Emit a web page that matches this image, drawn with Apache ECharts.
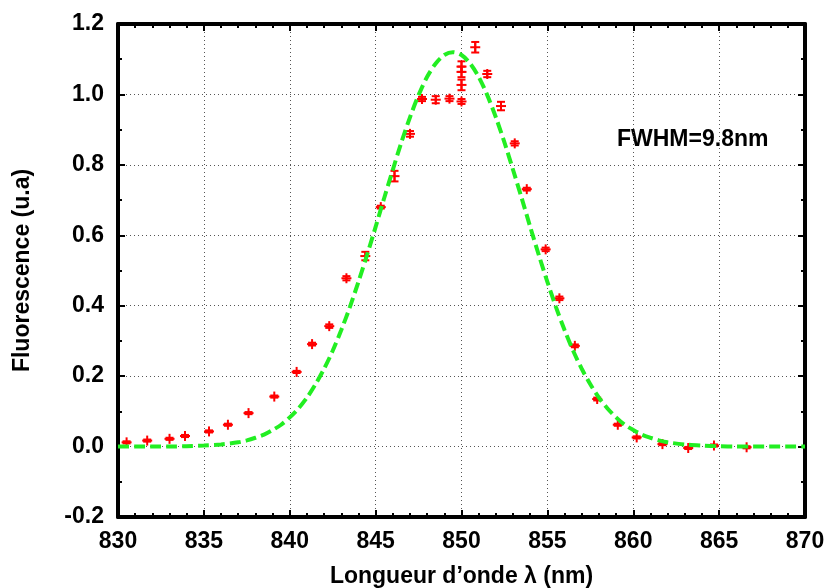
<!DOCTYPE html>
<html>
<head>
<meta charset="utf-8">
<script src="https://cdn.jsdelivr.net/npm/echarts@6/dist/echarts.min.js"></script>
<style>html,body{margin:0;padding:0;background:#fff}#c{width:828px;height:588px}</style>
</head>
<body>
<div id="c"></div>
<script>
// Measured points: wavelength (nm), fluorescence (u.a), error
const wavelengths = [830.5,831.7,833.0,833.9,835.3,836.4,837.6,839.1,840.4,841.3,842.3,843.3,844.4,845.3,846.1,847.0,847.7,848.5,849.3,850.0,850.0,850.0,850.0,850.8,851.5,852.3,853.1,853.8,854.9,855.7,856.6,857.9,859.1,860.2,861.7,863.2,864.7,866.6];
const fluorescence = [0.012,0.017,0.022,0.030,0.043,0.062,0.095,0.142,0.212,0.291,0.342,0.478,0.541,0.680,0.768,0.888,0.987,0.985,0.988,0.980,1.027,1.064,1.079,1.134,1.058,0.967,0.861,0.731,0.560,0.421,0.286,0.135,0.062,0.026,0.007,-0.004,0.003,-0.002];
const errors = [0.003,0.003,0.003,0.003,0.003,0.003,0.003,0.003,0.003,0.004,0.005,0.006,0.012,0.004,0.015,0.008,0.006,0.010,0.007,0.007,0.015,0.015,0.015,0.015,0.009,0.012,0.006,0.004,0.005,0.005,0.004,0.004,0.003,0.003,0.003,0.003,0.003,0.003];
// Fit curve
const fitX = [830,831,832,833,834,835,836,837,837.5,838,838.5,839,839.5,840,840.5,841,841.5,842,842.5,843,843.5,844,844.5,845,845.5,846,846.5,847,847.5,848,848.5,849,849.5,850,850.5,851,851.5,852,852.5,853,853.5,854,854.5,855,855.5,856,856.5,857,857.5,858,858.5,859,859.5,860,860.5,861,861.5,862,863,864,865,866,867,868,869,870];
const fitY = [0,0,0,0,0.001,0.003,0.006,0.012,0.0175,0.025,0.034,0.047,0.062,0.083,0.108,0.139,0.177,0.221,0.272,0.331,0.396,0.468,0.544,0.624,0.706,0.786,0.864,0.935,0.998,1.050,1.088,1.112,1.120,1.112,1.088,1.050,0.998,0.935,0.864,0.786,0.706,0.624,0.544,0.468,0.396,0.331,0.272,0.221,0.177,0.139,0.108,0.083,0.062,0.047,0.034,0.025,0.0175,0.012,0.006,0.003,0.001,0,0,0,0,0];
const xTicks = [830,835,840,845,850,855,860,865,870];
const yTicks = [-0.2,0,0.2,0.4,0.6,0.8,1.0,1.2];
const annotation = 'FWHM=9.8nm';

const FONT = '"Liberation Sans", Arial, sans-serif';
const FS = 23;
const chart = echarts.init(document.getElementById('c'), null, {renderer:'canvas'});
const pts = wavelengths.map((w,i)=>[w, fluorescence[i], errors[i]]);
const fit = fitX.map((x,i)=>[x, fitY[i]]);

const axisLine = {show:true, onZero:false, lineStyle:{color:'#000', width:4}};
const axisTick = {show:true, inside:true, length:7, lineStyle:{color:'#000', width:2}};

chart.setOption({
  animation:false,
  backgroundColor:'#fff',
  grid:{left:118, right:23, top:24, bottom:71, containLabel:false, outerBoundsMode:'none'},
  xAxis:[
    {type:'value', min:xTicks[0], max:xTicks[xTicks.length-1], interval:5, position:'bottom',
      axisLine:axisLine, axisTick:axisTick,
      minorTick:{show:true, splitNumber:5, length:4, lineStyle:{color:'#000', width:2}},
      axisLabel:{color:'#000', fontSize:FS, fontWeight:'bold', fontFamily:FONT, margin:13},
      splitLine:{show:true, lineStyle:{color:'#555', width:1, type:[1,3]}},
      name:'Longueur d\u2019onde \u03bb (nm)', nameLocation:'middle', nameGap:48,
      nameTextStyle:{color:'#000', fontSize:FS, fontWeight:'bold', fontFamily:FONT}
    },
    {type:'value', min:xTicks[0], max:xTicks[xTicks.length-1], interval:5, position:'top',
      axisLine:axisLine, axisTick:axisTick,
      minorTick:{show:true, splitNumber:5, length:4, lineStyle:{color:'#000', width:2}},
      axisLabel:{show:false}, splitLine:{show:false}
    }
  ],
  yAxis:[
    {type:'value', min:yTicks[0], max:yTicks[yTicks.length-1], interval:0.2, position:'left',
      axisLine:axisLine, axisTick:axisTick,
      minorTick:{show:true, splitNumber:2, length:4, lineStyle:{color:'#000', width:2}},
      axisLabel:{color:'#000', fontSize:FS, fontWeight:'bold', fontFamily:FONT, margin:14, formatter:v=>v.toFixed(1)},
      splitLine:{show:true, lineStyle:{color:'#555', width:1, type:[1,3]}},
      name:'Fluorescence (u.a)', nameLocation:'middle', nameGap:84, nameRotate:90,
      nameTextStyle:{color:'#000', fontSize:FS, fontWeight:'bold', fontFamily:FONT}
    },
    {type:'value', min:yTicks[0], max:yTicks[yTicks.length-1], interval:0.2, position:'right',
      axisLine:axisLine, axisTick:axisTick,
      minorTick:{show:true, splitNumber:2, length:4, lineStyle:{color:'#000', width:2}},
      axisLabel:{show:false}, splitLine:{show:false}
    }
  ],
  series:[
    {
      type:'custom', xAxisIndex:0, yAxisIndex:0, data:pts, z:3,
      renderItem:function(params, api){
        const x = api.value(0), y = api.value(1), e = api.value(2);
        const c = api.coord([x,y]);
        const hi = api.coord([x,y+e]);
        const lo = api.coord([x,y-e]);
        const st = {stroke:'#ff0000', lineWidth:2};
        const cap = 4, m = 5;
        return {type:'group', children:[
          {type:'line', shape:{x1:c[0], y1:hi[1], x2:c[0], y2:lo[1]}, style:st},
          {type:'line', shape:{x1:c[0]-cap, y1:hi[1], x2:c[0]+cap, y2:hi[1]}, style:st},
          {type:'line', shape:{x1:c[0]-cap, y1:lo[1], x2:c[0]+cap, y2:lo[1]}, style:st},
          {type:'line', shape:{x1:c[0]-m, y1:c[1], x2:c[0]+m, y2:c[1]}, style:st},
          {type:'line', shape:{x1:c[0], y1:c[1]-m, x2:c[0], y2:c[1]+m}, style:st}
        ]};
      }
    },
    {
      type:'line', xAxisIndex:0, yAxisIndex:0, data:fit, smooth:0.3, showSymbol:false, z:4,
      lineStyle:{color:'#22ee22', width:4, type:[11,5]}
    }
  ],
  graphic:[
    {type:'text', left:617, top:128, style:{text:annotation, fill:'#000', font:'bold '+FS+'px '+FONT, textVerticalAlign:'middle'}}
  ]
});
</script>
</body>
</html>
